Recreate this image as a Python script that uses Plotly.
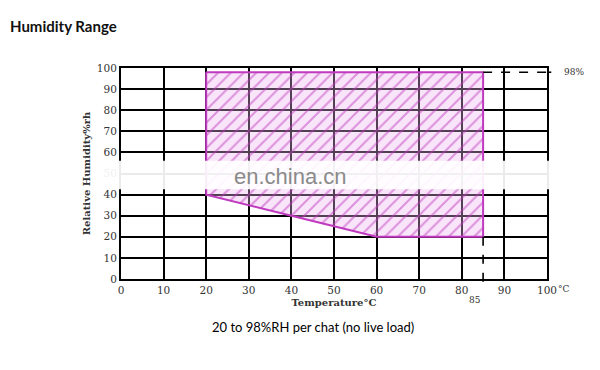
import plotly.graph_objects as go

# Data
region_temp = [20, 85, 85, 60, 40, 20, 20]
region_rh = [98, 98, 20, 20, 30, 40, 98]
x_ticks = [0, 10, 20, 30, 40, 50, 60, 70, 80, 90, 100]
y_ticks = [0, 10, 20, 30, 40, 50, 60, 70, 80, 90, 100]
max_rh = 98
max_temp = 85
min_rh_at_max = 20

MAG = "#bf3abf"
serif = "DejaVu Serif"

fig = go.Figure()

fig.add_trace(go.Scatter(
    x=region_temp, y=region_rh, mode="lines",
    line=dict(color=MAG, width=2),
    fill="toself",
    fillcolor="rgba(235,170,235,0.35)",
    fillpattern=dict(shape="/", fgcolor=MAG, bgcolor="rgba(238,180,238,0.35)",
                     size=9, solidity=0.22),
    hoverinfo="skip", showlegend=False,
))

fig.update_layout(
    width=600, height=370,
    margin=dict(l=121, r=53, t=68, b=91),
    paper_bgcolor="white", plot_bgcolor="white",
    font=dict(family=serif, size=10, color="#333"),
    xaxis=dict(range=[0, 100], tickvals=x_ticks,
               ticktext=[str(v) for v in x_ticks],
               showgrid=True, gridcolor="black", gridwidth=2,
               zeroline=False, showline=True, linecolor="black", linewidth=2,
               mirror=True, ticks="", tickfont=dict(family=serif, size=10.5, color="#333"),
               title=dict(text="<b>Temperature°C</b>", font=dict(family=serif, size=10, color="#333"),
                          standoff=4)),
    yaxis=dict(range=[0, 100], tickvals=y_ticks,
               ticktext=[str(v) for v in y_ticks],
               showgrid=True, gridcolor="black", gridwidth=2,
               zeroline=False, showline=True, linecolor="black", linewidth=2,
               mirror=True, ticks="", tickfont=dict(family=serif, size=10.5, color="#333"),
               title=dict(text="<b>Relative Humidity%rh</b>", font=dict(family=serif, size=10, color="#333"),
                          standoff=4)),
)

# dashed reference lines (extend slightly outside the plot)
fig.add_shape(type="line", xref="x", yref="y", x0=max_temp, x1=100, y0=max_rh, y1=max_rh,
              line=dict(color="black", width=1.6, dash="dash"))
fig.add_shape(type="line", xref="paper", yref="y", x0=1.0, x1=1.01, y0=max_rh, y1=max_rh,
              line=dict(color="black", width=1.6, dash="dash"))
fig.add_shape(type="line", xref="x", yref="paper", x0=max_temp, x1=max_temp,
              y0=min_rh_at_max / 100, y1=-0.05,
              line=dict(color="black", width=1.6, dash="dash"))

# watermark blur band
fig.add_shape(type="rect", xref="paper", yref="y", x0=-0.09, x1=1.03, y0=42.5, y1=56,
              fillcolor="white", opacity=0.92, line_width=0, layer="above")

fig.add_annotation(x=39.7, y=48.5, xref="x", yref="y", text="en.china.cn", showarrow=False,
                   font=dict(family="Liberation Sans", size=22, color="#8a8a8a"))

fig.add_annotation(x=1.035, y=max_rh / 100, xref="paper", yref="paper", text="98%",
                   showarrow=False, xanchor="left", yanchor="middle",
                   font=dict(family=serif, size=9, color="#333"))
fig.add_annotation(x=max_temp / 100, y=-0.10, xref="paper", yref="paper", text="85",
                   showarrow=False, yanchor="middle", font=dict(family=serif, size=9, color="#333"))
fig.add_annotation(x=1.022, y=-0.048, xref="paper", yref="paper", text="°C", showarrow=False,
                   xanchor="left", yanchor="middle", font=dict(family=serif, size=9, color="#333"))

fig.add_annotation(x=-113 / 426, y=1 + (68 - 15) / 211, xref="paper", yref="paper",
                   text="<b>Humidity Range</b>", showarrow=False, xanchor="left",
                   font=dict(family="Lato", size=15, color="#111"))
fig.add_annotation(x=(313 - 121) / 426, y=-(337 - 279) / 211, xref="paper", yref="paper",
                   text="20 to 98%RH per chat (no live load)", showarrow=False,
                   font=dict(family="Lato", size=13, color="#000"))

fig.write_html("out.html")
